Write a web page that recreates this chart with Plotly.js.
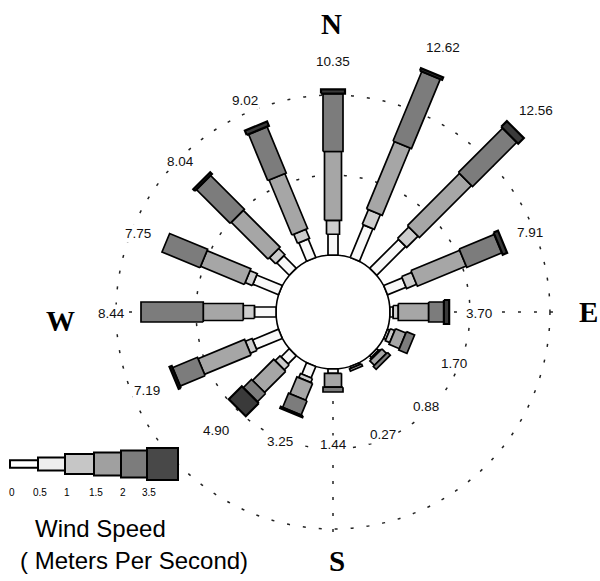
<!DOCTYPE html>
<html><head><meta charset="utf-8">
<script src="https://cdn.plot.ly/plotly-3.0.1.min.js"></script>
<style>html,body{margin:0;padding:0;background:#fff}#chart{width:600px;height:581px}</style>
</head><body><div id="chart"></div>
<script>
// ---------------- DATA ----------------
const directions = ['N','NNE','NE','ENE','E','ESE','SE','SSE','S','SSW','SW','WSW','W','WNW','NW','NNW'];
const dirAngles  = [0,22.5,45,67.5,90,112.5,135,157.5,180,202.5,225,247.5,270,292.5,315,337.5];
const totals     = [10.35,12.62,12.56,7.91,3.70,1.70,0.88,0.27,1.44,3.25,4.90,7.19,8.44,7.75,8.04,9.02];
const speedTicks = ['0','0.5','1','1.5','2','3.5'];
// frequency (%) by speed class (m/s) for each direction
const spd0_05  = [0,0,0,0,0,0,0,0,0,0,0,0,0,0,0,0];
const spd05_1  = [1.30,2.20,2.55,1.25,0.20,0.15,0.15,0.12,0.27,0.77,0.72,1.75,1.35,1.73,1.10,1.25];
const spd1_15  = [0.87,1.00,1.00,0.68,0.32,0.30,0.08,0.15,0.00,0.28,0.43,0.45,0.70,0.49,0.55,0.62];
const spd15_2  = [4.30,4.55,4.60,3.30,1.90,0.70,0.40,0.00,0.87,1.14,1.87,3.15,2.50,2.96,3.25,3.72];
const spd2_35  = [3.62,4.70,3.91,2.38,0.95,0.55,0.25,0.00,0.30,0.97,0.73,1.69,3.89,2.57,2.99,3.13];
const spd35up  = [0.26,0.17,0.50,0.30,0.33,0.00,0.00,0.00,0.00,0.09,1.15,0.15,0.00,0.00,0.15,0.30];
const series = [spd0_05, spd05_1, spd1_15, spd15_2, spd2_35, spd35up];

// ---------------- STYLE / LAYOUT ----------------
const W = 600, H = 581, CX = 333, CY = 312, PXU = 16;
const R0 = 3.56;                       // hub radius (in % units)
const classWidth = [6,10,13,17,20,24].map(v => v / PXU);
const classColor = ['#ffffff','#f8f8f8','#cdcdcd','#a6a6a6','#7c7c7c','#3a3a3a'];
const legColor   = ['#ffffff','#efefef','#c6c6c6','#a0a0a0','#7c7c7c','#484848'];
const legEdges   = [10,38,65,94,121,147,178];
const legHeights = [7.7,13,20,23,27,32];
const legYc = 464;
const SANS = 'Liberation Sans, Arial, sans-serif';
const SERIF = 'Liberation Serif, Times New Roman, serif';

const X = px => (px - CX) / PXU;
const Y = py => (CY - py) / PXU;
const pol = (r, deg) => { const t = deg * Math.PI / 180; return [r * Math.sin(t), r * Math.cos(t)]; };

const traces = [];
directions.forEach((d, i) => {
  const th = dirAngles[i] * Math.PI / 180;
  const ux = Math.sin(th), uy = Math.cos(th), nx = Math.cos(th), ny = -Math.sin(th);
  let r = R0;
  series.forEach((s, k) => {
    const len = s[i];
    if (len <= 0) return;
    const hw = classWidth[k] / 2, r2 = r + len;
    const pts = [[r, -hw], [r2, -hw], [r2, hw], [r, hw], [r, -hw]];
    traces.push({
      type: 'scatter', mode: 'lines', fill: 'toself',
      x: pts.map(p => p[0] * ux + p[1] * nx),
      y: pts.map(p => p[0] * uy + p[1] * ny),
      fillcolor: classColor[k],
      line: {color: '#000', width: k === 5 ? 2.2 : 1.7},
      hoverinfo: 'skip', showlegend: false
    });
    r = r2;
  });
});

const shapes = [];
const dotted = {color: '#222', width: 1.5, dash: '3px,13px'};
[R0 + 5, R0 + 10].forEach(rr => shapes.push({
  type: 'circle', xref: 'x', yref: 'y', x0: -rr, x1: rr, y0: -rr, y1: rr,
  line: dotted, layer: 'below'
}));
[0, 90, 180, 270].forEach(a => {
  const p1 = pol(R0, a), p2 = pol(R0 + 10.7, a);
  shapes.push({type: 'line', xref: 'x', yref: 'y', x0: p1[0], y0: p1[1], x1: p2[0], y1: p2[1], line: dotted, layer: 'below'});
});
shapes.push({type: 'circle', xref: 'x', yref: 'y', x0: -R0, x1: R0, y0: -R0, y1: R0,
  line: {color: '#000', width: 1.6}, fillcolor: '#fff', layer: 'below'});
// legend bar
legHeights.forEach((h, k) => shapes.push({
  type: 'rect', xref: 'x', yref: 'y',
  x0: X(legEdges[k]), x1: X(legEdges[k + 1]), y0: Y(legYc - h / 2), y1: Y(legYc + h / 2),
  fillcolor: legColor[k], line: {color: '#000', width: 2}, layer: 'above'
}));

const annotations = [];
totals.forEach((t, i) => {
  const rl = Math.max(R0 + t + 1.85, 8.2);
  const p = pol(rl, dirAngles[i]);
  annotations.push({x: p[0], y: p[1] - 0.1, xref: 'x', yref: 'y', text: t.toFixed(2), showarrow: false,
    font: {family: SANS, size: 13.5, color: '#111'}, bgcolor: '#fff', borderpad: 1});
});
[['N', 331, 24], ['E', 588, 312], ['S', 337, 561], ['W', 60, 321]].forEach(c => annotations.push({
  x: X(c[1]), y: Y(c[2]), xref: 'x', yref: 'y', text: '<b>' + c[0] + '</b>', showarrow: false,
  font: {family: SERIF, size: 29, color: '#000'}, borderpad: 0
}));
speedTicks.forEach((s, k) => annotations.push({
  x: X(legEdges[k] + 2), y: Y(492), xref: 'x', yref: 'y', text: s, showarrow: false,
  font: {family: SANS, size: 10, color: '#000'}
}));
annotations.push({x: X(100), y: Y(528), xref: 'x', yref: 'y', text: 'Wind Speed', showarrow: false,
  font: {family: SANS, size: 24, color: '#000'}});
annotations.push({x: X(134), y: Y(560), xref: 'x', yref: 'y', text: '( Meters Per Second)', showarrow: false,
  font: {family: SANS, size: 24, color: '#000'}});

const layout = {
  width: W, height: H, margin: {l: 0, r: 0, t: 0, b: 0, pad: 0},
  paper_bgcolor: '#fff', plot_bgcolor: '#fff', showlegend: false,
  xaxis: {range: [X(0), X(W)], visible: false, fixedrange: true},
  yaxis: {range: [Y(H), Y(0)], visible: false, fixedrange: true},
  shapes: shapes, annotations: annotations
};
Plotly.newPlot('chart', traces, layout, {staticPlot: true, displayModeBar: false});
</script></body></html>
